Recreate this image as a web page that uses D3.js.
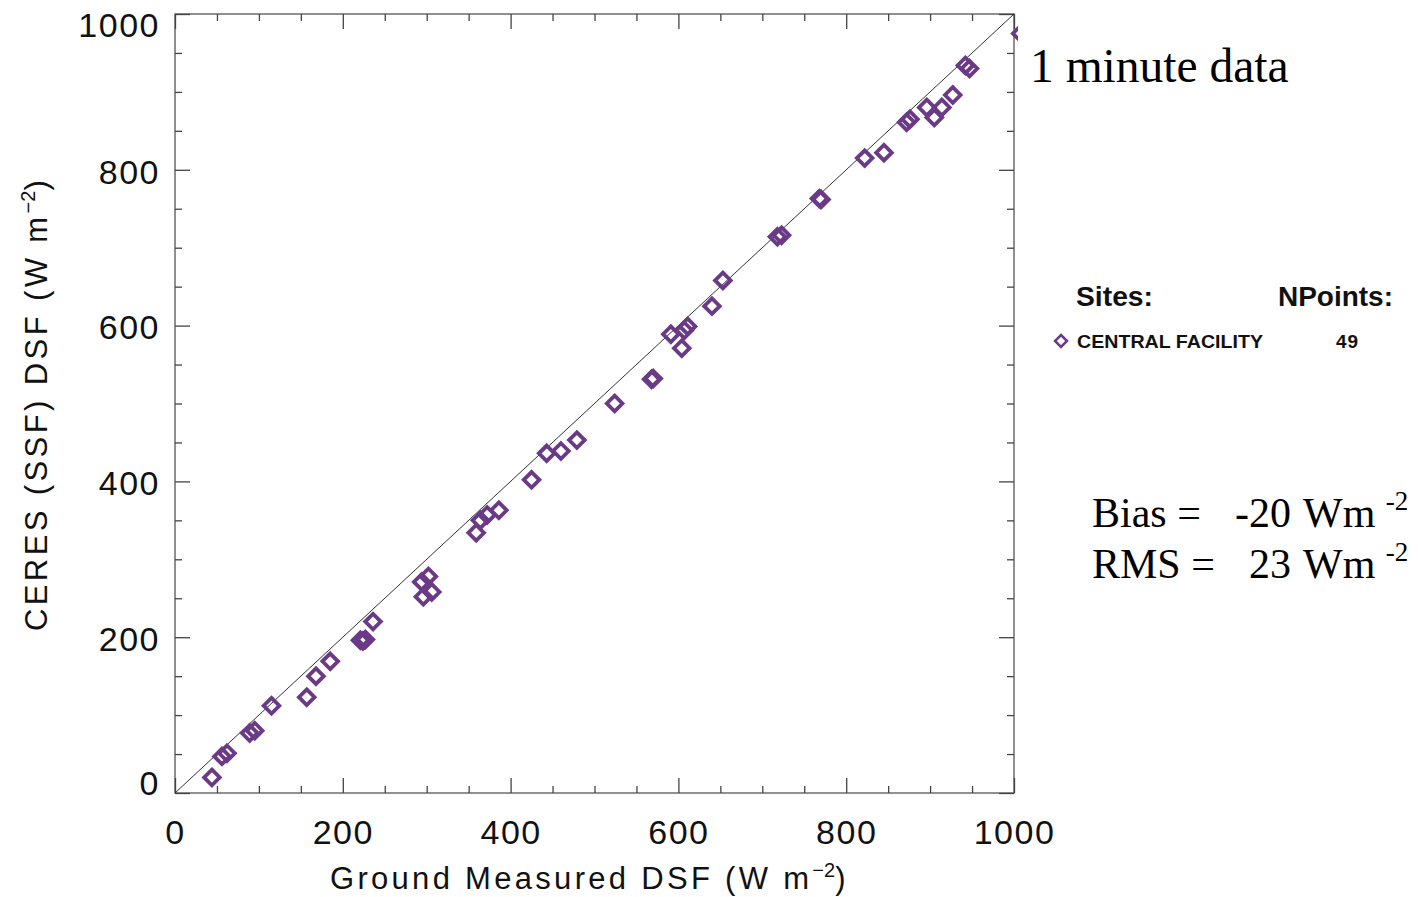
<!DOCTYPE html>
<html>
<head>
<meta charset="utf-8">
<script src="https://cdn.jsdelivr.net/npm/d3@7"></script>
<style>
  html, body { margin: 0; padding: 0; background: #fff; }
  svg { display: block; }
</style>
</head>
<body>
<svg id="chart" width="1418" height="897"></svg>
<script>
// ---- data ----
const groundDSF = [44, 56, 62, 89, 95, 115, 157, 168, 185, 221, 224, 227, 236,
  294, 302, 296, 306, 359, 364, 372, 386, 425, 443, 460, 479, 524, 568, 570,
  591, 604, 607, 611, 640, 653, 718, 723, 770, 768, 822, 845, 872, 876, 896,
  905, 914, 927, 942, 947, 1008];
const ceresDSF = [20, 47, 51, 77, 80, 112, 123, 150, 169, 196, 195, 197, 220,
  271, 278, 252, 258, 334, 350, 357, 363, 402, 436, 439, 453, 500, 531, 532,
  589, 571, 594, 599, 625, 658, 714, 716, 762, 763, 815, 822, 861, 865, 880,
  867, 880, 896, 934, 930, 975];
const majorTicks = [0, 200, 400, 600, 800, 1000];
const minorTicks = d3.range(0, 1001, 50).filter(v => v % 200 !== 0);
const siteNames = ["CENTRAL FACILITY"];
const siteCounts = [49];
const statsLabels = ["Bias =", "RMS ="];
const statsValues = ["-20", "23"];

const purple = "#6b3a87";
const svg = d3.select("#chart");
const x = d3.scaleLinear().domain([0, 1000]).range([175, 1014]);
const y = d3.scaleLinear().domain([0, 1000]).range([793, 14]);

const axisFont = "'Liberation Sans', Arial, sans-serif";

// clip
svg.append("clipPath").attr("id", "clip").append("rect")
  .attr("x", x(0)).attr("y", y(1000)).attr("width", x(1000) - x(0) + 4).attr("height", y(0) - y(1000));

// frame
svg.append("rect").attr("x", x(0)).attr("y", y(1000))
  .attr("width", x(1000) - x(0)).attr("height", y(0) - y(1000))
  .attr("fill", "none").attr("stroke", "#555").attr("stroke-width", 1.3);

// ticks (inward, on all four sides) using d3 axes
function ticksOn(axisGen, transform, vals, len) {
  const g = svg.append("g").attr("transform", transform)
    .call(axisGen.tickValues(vals).tickSize(len).tickFormat(""));
  g.select(".domain").remove();
  g.selectAll("line").attr("stroke", "#444").attr("stroke-width", 1.3);
}
ticksOn(d3.axisTop(x), `translate(0,${y(0)})`, majorTicks, 15);
ticksOn(d3.axisTop(x), `translate(0,${y(0)})`, minorTicks, 7);
ticksOn(d3.axisBottom(x), `translate(0,${y(1000)})`, majorTicks, 15);
ticksOn(d3.axisBottom(x), `translate(0,${y(1000)})`, minorTicks, 7);
ticksOn(d3.axisRight(y), `translate(${x(0)},0)`, majorTicks, 15);
ticksOn(d3.axisRight(y), `translate(${x(0)},0)`, minorTicks, 7);
ticksOn(d3.axisLeft(y), `translate(${x(1000)},0)`, majorTicks, 15);
ticksOn(d3.axisLeft(y), `translate(${x(1000)},0)`, minorTicks, 7);

// tick labels
const xl = svg.append("g").attr("transform", `translate(0,${y(0)})`)
  .call(d3.axisBottom(x).tickValues(majorTicks).tickSize(0).tickPadding(0).tickFormat(d3.format("d")));
xl.select(".domain").remove();
xl.selectAll("text").attr("y", 51).attr("dy", 0)
  .attr("font-family", axisFont).attr("font-size", 34).attr("letter-spacing", 1.5)
  .attr("fill", "#111");

const yl = svg.append("g").attr("transform", `translate(${x(0)},0)`)
  .call(d3.axisLeft(y).tickValues(majorTicks).tickSize(0).tickPadding(0).tickFormat(d3.format("d")));
yl.select(".domain").remove();
yl.selectAll("text").attr("x", -15).attr("dy", "0.36em")
  .attr("y", d => d === 0 ? -11 : (d === 1000 ? 10 : 1))
  .attr("font-family", axisFont).attr("font-size", 34).attr("letter-spacing", 1.5)
  .attr("fill", "#111");

// axis titles
const xt = svg.append("text").attr("x", 330).attr("y", 889)
  .attr("font-family", axisFont).attr("font-size", 31).attr("fill", "#111")
  .attr("letter-spacing", 3.3);
xt.append("tspan").text("Ground Measured DSF (W m");
xt.append("tspan").attr("font-size", 20).attr("dy", -12).attr("letter-spacing", 0).text("−2");
xt.append("tspan").attr("dy", 12).text(")");

const yt = svg.append("text").attr("transform", "translate(47,631) rotate(-90)")
  .attr("font-family", axisFont).attr("font-size", 31).attr("fill", "#111")
  .attr("letter-spacing", 3.4);
yt.append("tspan").text("CERES (SSF) DSF (W m");
yt.append("tspan").attr("font-size", 20).attr("dy", -12).attr("letter-spacing", 0).text("−2");
yt.append("tspan").attr("dy", 12).text(")");

// 1:1 line
svg.append("line")
  .attr("x1", x(0)).attr("y1", y(0)).attr("x2", x(1000)).attr("y2", y(1000))
  .attr("stroke", "#333").attr("stroke-width", 1);

// points
const diamond = (s) => `M0,${-s}L${s},0L0,${s}L${-s},0Z`;
svg.append("g").attr("clip-path", "url(#clip)")
  .selectAll("path").data(groundDSF.map((g, i) => [g, ceresDSF[i]]))
  .join("path")
  .attr("transform", d => `translate(${x(d[0])},${y(d[1])})`)
  .attr("d", diamond(7.8))
  .attr("fill", "none").attr("stroke", purple).attr("stroke-width", 3.8);

// "1 minute data"
svg.append("text").attr("x", 1030).attr("y", 82)
  .attr("font-family", "'Liberation Serif', 'Times New Roman', serif")
  .attr("font-size", 47.5).attr("fill", "#000").text("1 minute data");

// legend
const lf = "'Liberation Sans', Arial, sans-serif";
svg.append("text").attr("x", 1076).attr("y", 306).attr("font-family", lf)
  .attr("font-size", 27).attr("font-weight", "bold").attr("fill", "#111")
  .attr("textLength", 77).attr("lengthAdjust", "spacingAndGlyphs").text("Sites:");
svg.append("text").attr("x", 1278).attr("y", 306).attr("font-family", lf)
  .attr("font-size", 27).attr("font-weight", "bold").attr("fill", "#111")
  .attr("textLength", 115).attr("lengthAdjust", "spacingAndGlyphs").text("NPoints:");
siteNames.forEach((name, i) => {
  const yy = 348 + i * 30;
  svg.append("path").attr("transform", `translate(1061,${yy - 7})`)
    .attr("d", diamond(6)).attr("fill", "none").attr("stroke", purple).attr("stroke-width", 2.5);
  svg.append("text").attr("x", 1077).attr("y", yy).attr("font-family", lf)
    .attr("font-size", 18).attr("font-weight", "bold").attr("fill", "#111")
    .attr("textLength", 186).attr("lengthAdjust", "spacingAndGlyphs").text(name);
  svg.append("text").attr("x", 1336).attr("y", yy).attr("font-family", lf)
    .attr("font-size", 19).attr("font-weight", "bold").attr("fill", "#111")
    .attr("letter-spacing", 1).text(siteCounts[i]);
});

// stats
const sf = "'Liberation Serif', 'Times New Roman', serif";
statsLabels.forEach((lab, i) => {
  const by = 527 + i * 51;
  svg.append("text").attr("x", 1092).attr("y", by).attr("font-family", sf)
    .attr("font-size", 42).attr("fill", "#000").text(lab);
  svg.append("text").attr("x", 1291).attr("y", by).attr("text-anchor", "end")
    .attr("font-family", sf).attr("font-size", 42).attr("fill", "#000").text(statsValues[i]);
  const t = svg.append("text").attr("x", 1303).attr("y", by).attr("font-family", sf)
    .attr("font-size", 42).attr("fill", "#000");
  t.append("tspan").text("Wm ");
  t.append("tspan").attr("font-size", 27).attr("dy", -17).text("-2");
});
</script>
</body>
</html>
